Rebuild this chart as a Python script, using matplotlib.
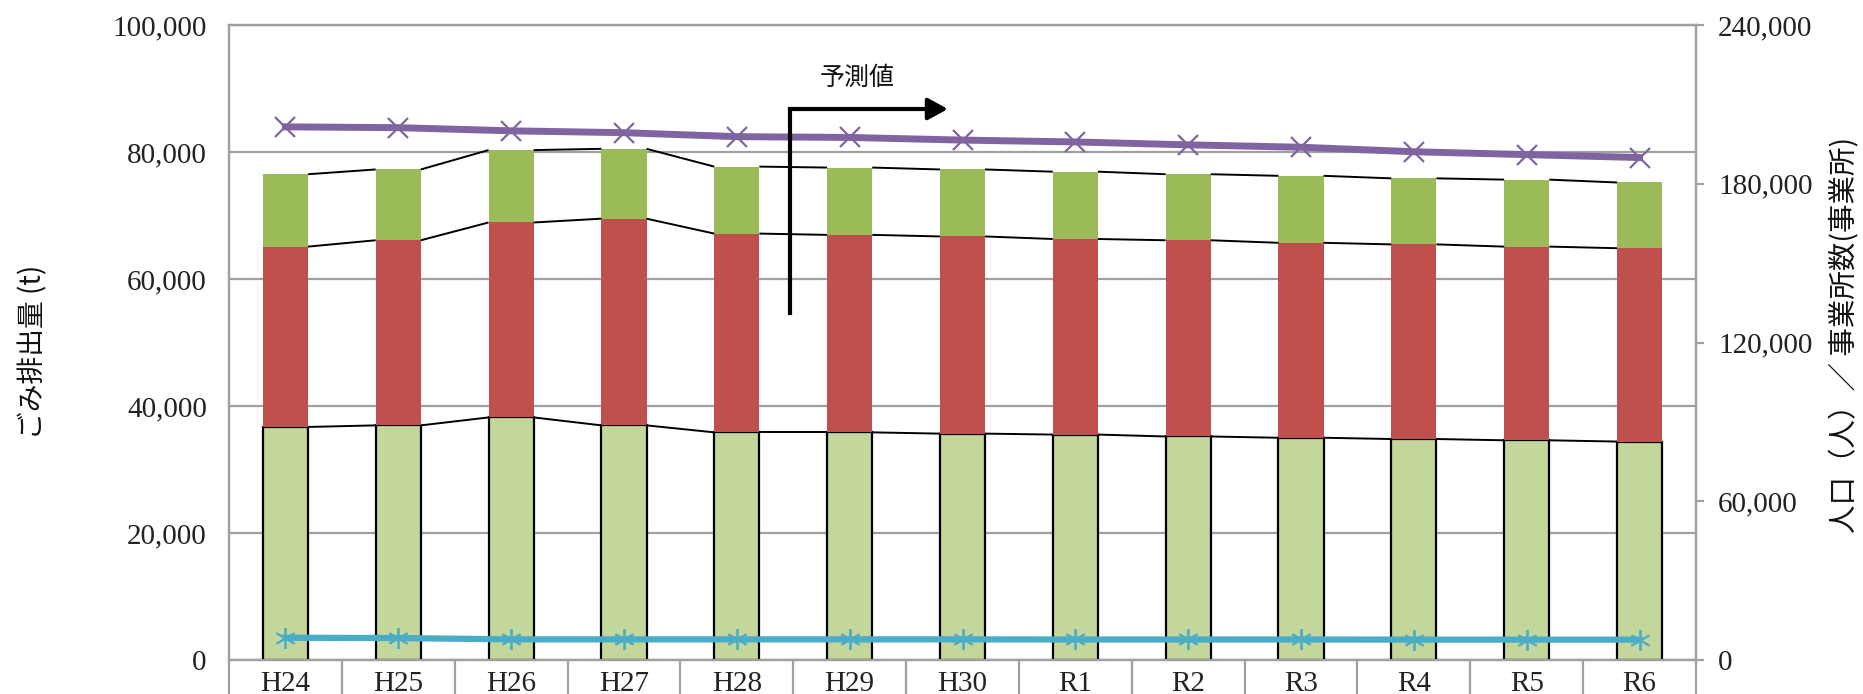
import matplotlib
matplotlib.use("Agg")
import matplotlib.pyplot as plt
import numpy as np
from matplotlib.ticker import FuncFormatter

# ---- data ----
years = ["H24", "H25", "H26", "H27", "H28", "H29", "H30",
         "R1", "R2", "R3", "R4", "R5", "R6"]
# stacked waste amounts (t), bottom to top
seg_bottom = [36700, 36950, 38200, 36950, 35850, 35850, 35650,
              35500, 35200, 35000, 34800, 34600, 34400]
seg_middle = [28400, 29150, 30700, 32550, 31300, 31100, 31050,
              30800, 30900, 30700, 30650, 30500, 30450]
seg_top = [11400, 11150, 11400, 11000, 10550, 10600, 10550,
           10600, 10400, 10550, 10400, 10550, 10350]
# right axis series
population = [201500, 201200, 200000, 199300, 197800, 197500, 196500,
              195800, 194700, 193800, 192100, 191000, 189900]
offices = [8400, 8300, 7800, 7800, 7800, 7800, 7800,
           7750, 7750, 7750, 7700, 7700, 7700]

left_ticks = [0, 20000, 40000, 60000, 80000, 100000]
right_ticks = [0, 60000, 120000, 180000, 240000]

# forecast marker position (category units, left-axis units)
forecast_x = 4.47
forecast_x_end = 5.87
forecast_y_low = 54650
forecast_y_high = 86770

NUM_FONT = ["Liberation Serif", "DejaVu Serif"]
JP_FONT = ["Noto Sans CJK JP", "DejaVu Sans"]
plt.rcParams["font.family"] = NUM_FONT

C_LIGHT = "#C3D69B"
C_RED = "#C0504D"
C_GREEN = "#9BBB59"
C_PURPLE = "#8064A2"
C_CYAN = "#4BACC6"
C_GRID = "#A0A0A0"

W_PX, H_PX = 1863, 694
fig = plt.figure(figsize=(W_PX / 100, H_PX / 100), dpi=100)
ax = fig.add_axes([229 / W_PX, 1 - 660 / H_PX, (1696 - 229) / W_PX, (660 - 25) / H_PX])

x = np.arange(len(years))
w = 0.4
b = np.array(seg_bottom)
m = np.array(seg_middle)
t = np.array(seg_top)

ax.bar(x, b, width=w, color=C_LIGHT, edgecolor="black", linewidth=1.6, zorder=3)
ax.bar(x, m, width=w, bottom=b, color=C_RED, linewidth=0, zorder=3)
ax.bar(x, t, width=w, bottom=b + m, color=C_GREEN, linewidth=0, zorder=3)

# series lines joining segment tops of neighbouring bars
for level in (b, b + m, b + m + t):
    for i in range(len(x) - 1):
        ax.plot([x[i] + w / 2, x[i + 1] - w / 2], [level[i], level[i + 1]],
                color="black", lw=1.4, zorder=4, solid_capstyle="butt")

ax.set_xlim(-0.5, len(years) - 0.5)
ax.set_ylim(0, 100000)
ax.set_yticks(left_ticks)
ax.yaxis.set_major_formatter(FuncFormatter(lambda v, p: f"{int(v):,}"))
ax.yaxis.grid(True, color=C_GRID, lw=1.6)
ax.set_axisbelow(True)
ax.tick_params(axis="y", length=0, pad=16, labelsize=21, colors="#222222")

ax.set_xticks(x)
ax.set_xticklabels(years)
ax.set_xticks(np.arange(-0.5, len(years), 1.0), minor=True)
ax.tick_params(axis="x", which="major", length=0, pad=8, labelsize=21, colors="#222222")
ax.tick_params(axis="x", which="minor", length=32, width=1.6, color=C_GRID)

for s in ax.spines.values():
    s.set_color(C_GRID)
    s.set_linewidth(1.6)

# right axis: population / offices
ax2 = ax.twinx()
ax2.set_ylim(0, 240000)
ax2.set_yticks(right_ticks)
ax2.yaxis.set_major_formatter(FuncFormatter(lambda v, p: f"{int(v):,}"))
ax2.tick_params(axis="y", length=6, width=1.6, color=C_GRID, pad=10,
                labelsize=21, labelcolor="#222222")
for s in ax2.spines.values():
    s.set_color(C_GRID)
    s.set_linewidth(1.6)

ax2.plot(x, population, color=C_PURPLE, lw=5, zorder=5,
         marker="x", markersize=14, markeredgewidth=1.6)
ax2.plot(x, offices, color=C_CYAN, lw=4.5, zorder=5,
         marker=(6, 2, 0), markersize=15, markeredgewidth=1.3)

# axis titles
fig.text(33 / W_PX, 1 - 352 / H_PX, "ごみ排出量 (t)", family=JP_FONT, fontsize=20,
         rotation=90, ha="center", va="center", color="#111111")
fig.text(1845 / W_PX, 1 - 335 / H_PX, "人口（人）／ 事業所数(事業所)", family=JP_FONT,
         fontsize=20.5, rotation=90, ha="center", va="center", color="#111111")

# forecast arrow
k = 240000 / 100000
ax2.plot([forecast_x, forecast_x], [forecast_y_low * k, forecast_y_high * k],
         color="black", lw=3, zorder=6, solid_capstyle="projecting")
ax2.annotate("", xy=(forecast_x_end, forecast_y_high * k),
             xytext=(forecast_x, forecast_y_high * k),
             arrowprops=dict(arrowstyle="-|>,head_length=0.6,head_width=0.33",
                             lw=3, color="black", shrinkA=0, shrinkB=0,
                             mutation_scale=20),
             zorder=6)
ax2.text((forecast_x + forecast_x_end) / 2 - 0.1, 91650 * k, "予測値",
         family=JP_FONT, fontsize=18, ha="center", va="center", color="#111111")

fig.savefig("out.png", dpi=100)
